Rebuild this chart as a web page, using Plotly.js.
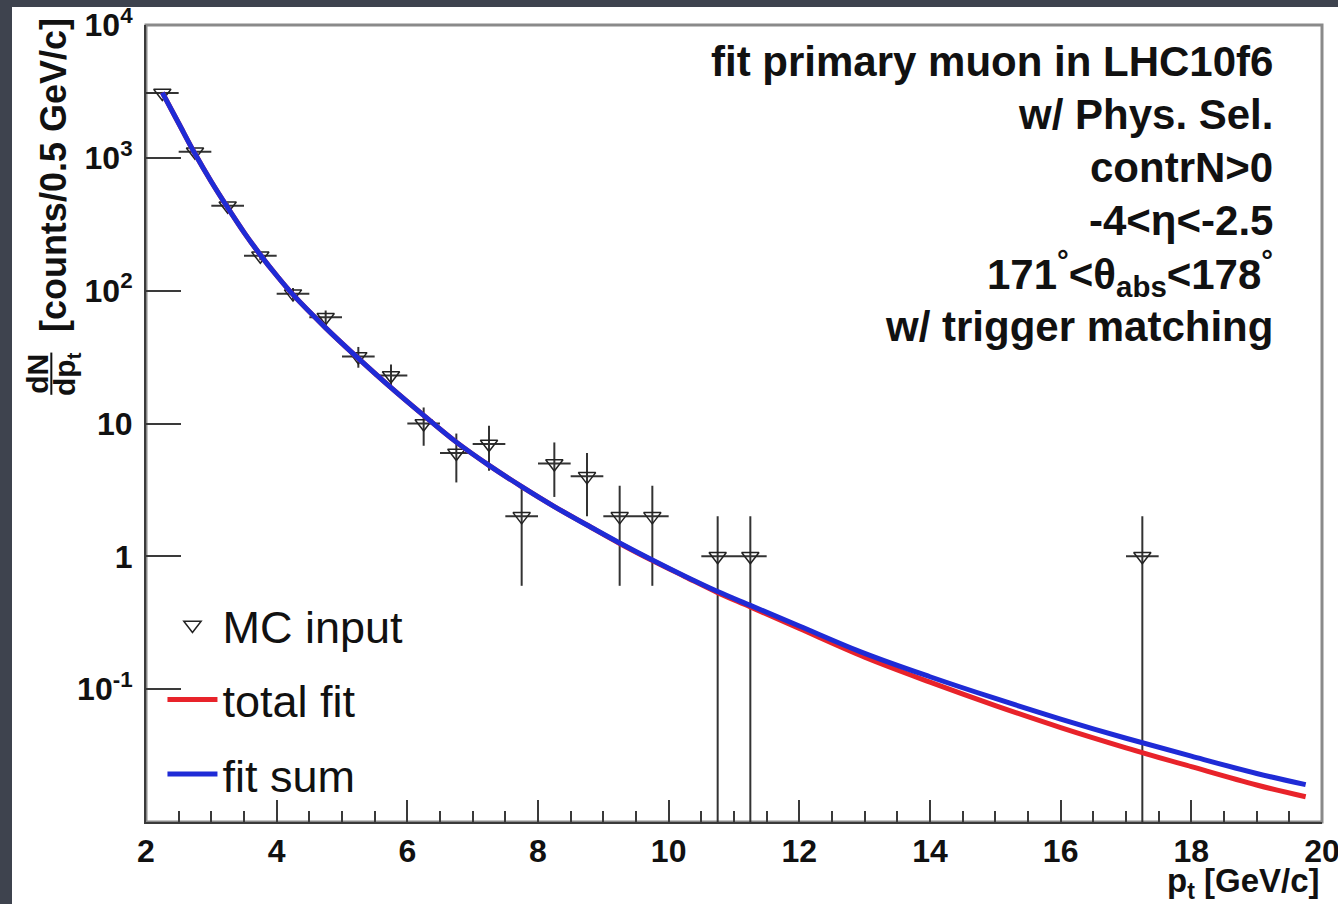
<!DOCTYPE html>
<html><head><meta charset="utf-8">
<script src="https://cdn.plot.ly/plotly-3.0.1.min.js"></script>
<style>
html,body{margin:0;padding:0;background:#3e434e;width:1338px;height:904px;overflow:hidden;}
#chart{position:absolute;left:12px;top:7px;width:1326px;height:897px;background:#fff;}
</style></head><body><div id="chart"></div>
<script>
// ---- data ----
const binCenters = [2.25,2.75,3.25,3.75,4.25,4.75,5.25,5.75,6.25,6.75,7.25,7.75,8.25,8.75,9.25,9.75,10.75,11.25,17.25];
const mcCounts   = [3080,1110,436,183,95,63,32,23,10,6,7,2,5,4,2,2,1,1,1];
const mcErrUp    = [55,33,21,13.5,9.7,7.9,5.7,4.8,3.2,2.4,2.6,1.4,2.2,2,1.4,1.4,1,1,1];
const mcErrDown  = [55,33,21,13.5,9.7,7.9,5.7,4.8,3.2,2.4,2.6,1.4,2.2,2,1.4,1.4,1,1,1];
const binHalfWidth = 0.25;

const fitX     = [2.25,2.5,2.75,3,3.25,3.5,3.75,4,4.25,4.75,5.25,5.75,6.25,6.75,7.25,7.75,8.25,8.75,9.25,9.75,10.25,10.75,11.25,12,13,14,15,16,17,18,19,19.75];
const fitSum   = [3100,1820,1072,661,422,275,186,130,93.3,52.5,30.9,18.6,11.5,7.24,4.84,3.35,2.37,1.72,1.26,0.938,0.708,0.543,0.427,0.299,0.186,0.124,0.0851,0.0596,0.0427,0.0313,0.0232,0.0191];
const totalFit = [3100,1820,1072,661,422,275,186,130,93.3,52.5,30.9,18.6,11.5,7.24,4.84,3.35,2.37,1.72,1.25,0.93,0.703,0.533,0.416,0.286,0.174,0.113,0.0753,0.0514,0.0362,0.0261,0.0190,0.0155];

const yTickVals = [0.1,1,10,100,1000,10000];
const yTickText = ['10<sup>-1</sup>','1','10','10<sup>2</sup>','10<sup>3</sup>','10<sup>4</sup>'];

const seriesNames = ['MC input','total fit','fit sum'];
const infoLines = [
  'fit primary muon in LHC10f6',
  'w/ Phys. Sel.',
  'contrN&gt;0',
  '-4&lt;η&lt;-2.5',
  '171<sup>°</sup>&lt;θ<sub>abs</sub>&lt;178<sup>°</sup>',
  'w/ trigger matching'
];
const xTitle = 'p<sub>t</sub> [GeV/c]';
const yTitleUnits = '[counts/0.5 GeV/c]';
const yTitleNum = 'dN';
const yTitleDen = 'dp<sub>t</sub>';

// ---- styling ----
const FONT = 'Liberation Sans, Arial, Helvetica, sans-serif';
const AXC = '#3a3a3a';
const RED = '#e8232a';
const BLUE = '#1f2bd6';

const traces = [
  {
    x: binCenters, y: mcCounts, type: 'scatter', mode: 'markers', name: seriesNames[0],
    legendgroup: 'a',
    marker: {symbol: 'triangle-down-open', size: 15, color: '#222', line: {width: 1.5, color: '#222'}},
    error_y: {type: 'data', symmetric: false, array: mcErrUp, arrayminus: mcErrDown, color: '#333', thickness: 2, width: 0},
    error_x: {type: 'constant', value: binHalfWidth, color: '#333', thickness: 2, width: 0},
    cliponaxis: true
  },
  {
    x: fitX, y: totalFit, type: 'scatter', mode: 'lines', name: seriesNames[1], legendgroup: 'b',
    line: {color: RED, width: 5, shape: 'spline', smoothing: 1}
  },
  {
    x: fitX, y: fitSum, type: 'scatter', mode: 'lines', name: seriesNames[2], legendgroup: 'c',
    line: {color: BLUE, width: 5, shape: 'spline', smoothing: 1}
  }
];

const annotations = [];
const infoTop = 0.9536, infoStep = 0.0665;
infoLines.forEach((t, i) => {
  annotations.push({
    xref: 'paper', yref: 'paper', x: 0.960, y: infoTop - i * infoStep,
    xanchor: 'right', yanchor: 'middle', showarrow: false, align: 'right',
    text: t, font: {family: FONT, size: 42, color: '#111', weight: 'bold'}
  });
});
annotations.push({
  xref: 'paper', yref: 'paper', x: 1.0, y: -0.076, xanchor: 'right', yanchor: 'middle',
  showarrow: false, text: xTitle, font: {family: FONT, size: 33, color: '#111', weight: 'bold'}
});
annotations.push({
  xref: 'paper', yref: 'paper', x: -0.078, y: 0.812, xanchor: 'center', yanchor: 'middle',
  showarrow: false, textangle: -90, text: yTitleUnits, font: {family: FONT, size: 36, color: '#111', weight: 'bold'}
});
annotations.push({
  xref: 'paper', yref: 'paper', x: -0.093, y: 0.562, xanchor: 'center', yanchor: 'middle',
  showarrow: false, textangle: -90, text: yTitleNum, font: {family: FONT, size: 30, color: '#111', weight: 'bold'}
});
annotations.push({
  xref: 'paper', yref: 'paper', x: -0.068, y: 0.562, xanchor: 'center', yanchor: 'middle',
  showarrow: false, textangle: -90, text: yTitleDen, font: {family: FONT, size: 30, color: '#111', weight: 'bold'}
});

const layout = {
  width: 1326, height: 897,
  margin: {l: 134, r: 16, t: 18, b: 82},
  paper_bgcolor: '#ffffff', plot_bgcolor: '#ffffff',
  showlegend: true,
  legend: {
    x: 0.014, y: 0.292, xanchor: 'left', yanchor: 'top',
    bgcolor: 'rgba(0,0,0,0)', borderwidth: 0,
    font: {family: FONT, size: 45, color: '#111'},
    tracegroupgap: 13, itemwidth: 50
  },
  xaxis: {
    type: 'linear', range: [2, 20], dtick: 2, tick0: 2,
    ticks: 'inside', ticklen: 22, tickwidth: 2, tickcolor: AXC,
    showline: true, linecolor: AXC, linewidth: 2, mirror: false,
    showgrid: false, zeroline: false, ticklabeloverflow: 'allow',
    tickfont: {family: FONT, size: 32, color: '#111', weight: 'bold'},
    minor: {dtick: 0.5, ticks: 'inside', ticklen: 11, tickwidth: 2, tickcolor: AXC, showgrid: false}
  },
  yaxis: {
    type: 'log', range: [-2, 4],
    tickmode: 'array', tickvals: yTickVals, ticktext: yTickText,
    ticks: 'inside', ticklen: 35, tickwidth: 2, tickcolor: AXC,
    showline: true, linecolor: AXC, linewidth: 2, mirror: false,
    showgrid: false, zeroline: false, ticklabeloverflow: 'allow', ticklabelstandoff: 5,
    tickfont: {family: FONT, size: 32, color: '#111', weight: 'bold'}
  },
  yaxis2: {
    type: 'log', range: [-2, 4], overlaying: 'y', side: 'left',
    dtick: 'D1', ticks: 'inside', ticklen: 17, tickwidth: 2, tickcolor: AXC,
    showticklabels: false, showline: false, showgrid: false, zeroline: false
  },
  shapes: [
    {type: 'rect', xref: 'paper', yref: 'paper', x0: 0, x1: 1, y0: 0, y1: 1,
     line: {color: '#8a8a8a', width: 3}, fillcolor: 'rgba(0,0,0,0)', layer: 'below'},
    {type: 'line', xref: 'paper', yref: 'paper', x0: -0.0805, x1: -0.0805, y0: 0.536, y1: 0.589,
     line: {color: '#111', width: 2}}
  ],
  annotations: annotations
};

Plotly.newPlot('chart', traces, layout, {displayModeBar: false, staticPlot: true});
</script></body></html>
